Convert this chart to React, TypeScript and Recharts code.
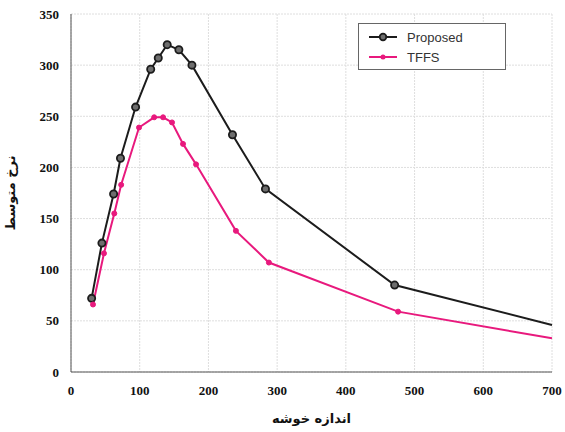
import { CartesianGrid, Line, LineChart, XAxis, YAxis } from "recharts";

const proposedX = [30, 45, 62, 72, 94, 116, 127, 140, 157, 176, 235, 283, 471, 700];
const proposedY = [72, 126, 174, 209, 259, 296, 307, 320, 315, 300, 232, 179, 85, 46];
const tffsX = [32, 48, 63, 73, 99, 121, 134, 147, 163, 182, 240, 288, 476, 700];
const tffsY = [66, 116, 155, 183, 239, 249, 249, 244, 223, 203, 138, 107, 59, 33];

const xTicks = [0, 100, 200, 300, 400, 500, 600, 700];
const yTicks = [0, 50, 100, 150, 200, 250, 300, 350];

const proposed = proposedX.map((x, i) => ({ x, y: proposedY[i] }));
const tffs = tffsX.map((x, i) => ({ x, y: tffsY[i] }));

const BLACK = "#1c1c1c";
const PINK = "#e8197d";
const tickStyle = { fontFamily: "Liberation Serif", fontWeight: 700, fontSize: 13, fill: "#111" };

// last point of each series has no marker
function markerFor(kind: "circle" | "dot", last: number) {
  return (p: any) => {
    if (p.index === last) return <g key={p.index} />;
    if (kind === "circle")
      return <circle key={p.index} cx={p.cx} cy={p.cy} r={3.6} fill="#6e6e6e" stroke={BLACK} strokeWidth={1.8} />;
    return <circle key={p.index} cx={p.cx} cy={p.cy} r={2.5} fill={PINK} stroke={PINK} />;
  };
}

function LegendBox() {
  const row = (label: string, color: string, circle: boolean) => (
    <div style={{ display: "flex", alignItems: "center", height: 20 }}>
      <svg width={36} height={12}>
        <line x1={4} y1={6} x2={32} y2={6} stroke={color} strokeWidth={2} />
        {circle ? (
          <circle cx={18} cy={6} r={3.3} fill="#6e6e6e" stroke={color} strokeWidth={1.8} />
        ) : (
          <circle cx={18} cy={6} r={2.5} fill={color} />
        )}
      </svg>
      <span style={{ marginLeft: 6 }}>{label}</span>
    </div>
  );
  return (
    <div
      style={{
        position: "absolute",
        left: 358,
        top: 23,
        width: 148,
        height: 47,
        border: "1px solid #666",
        background: "#fff",
        fontFamily: "Liberation Sans",
        fontSize: 13,
        color: "#333",
        boxSizing: "border-box",
        padding: "3px 6px",
      }}
    >
      {row("Proposed", BLACK, true)}
      {row("TFFS", PINK, false)}
    </div>
  );
}

export default function App() {
  return (
    <div style={{ position: "fixed", left: 0, top: 0, width: 565, height: 432, background: "#fff" }}>
      <LineChart width={565} height={432} margin={{ top: 14, right: 13, left: 0, bottom: 0 }}>
        <CartesianGrid stroke="#dedede" strokeDasharray="2 1" />
        <XAxis
          type="number"
          dataKey="x"
          domain={[0, 700]}
          ticks={xTicks}
          height={60}
          tick={tickStyle}
          tickLine={false}
          tickMargin={8}
          axisLine={{ stroke: "#555" }}
          allowDuplicatedCategory={false}
          label={{
            value: "اندازه خوشه",
            position: "insideBottom",
            offset: 9,
            style: { fontFamily: "DejaVu Sans", fontWeight: 700, fontSize: 13, fill: "#111" },
          }}
        />
        <XAxis xAxisId="top" orientation="top" type="number" domain={[0, 700]} height={0} tick={false} tickLine={false} axisLine={{ stroke: "#555" }} />
        <YAxis
          type="number"
          dataKey="y"
          domain={[0, 350]}
          ticks={yTicks}
          width={71}
          tick={tickStyle}
          tickLine={false}
          tickMargin={6}
          axisLine={{ stroke: "#555" }}
          label={{
            value: "نرخ متوسط",
            angle: -90,
            position: "insideLeft",
            offset: 10,
            style: { textAnchor: "middle", fontFamily: "DejaVu Sans", fontWeight: 700, fontSize: 13, fill: "#111" },
          }}
        />
        <YAxis yAxisId="right" orientation="right" domain={[0, 350]} width={0} tick={false} tickLine={false} axisLine={{ stroke: "#555" }} />
        <Line
          data={proposed}
          dataKey="y"
          name="Proposed"
          stroke={BLACK}
          strokeWidth={2}
          dot={markerFor("circle", proposed.length - 1)}
          isAnimationActive={false}
        />
        <Line
          data={tffs}
          dataKey="y"
          name="TFFS"
          stroke={PINK}
          strokeWidth={2}
          dot={markerFor("dot", tffs.length - 1)}
          isAnimationActive={false}
        />
      </LineChart>
      <LegendBox />
    </div>
  );
}
